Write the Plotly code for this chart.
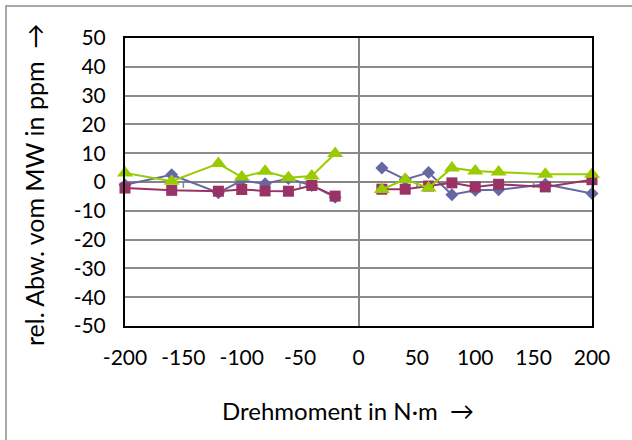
import plotly.graph_objects as go

# Torque set points (N·m), negative and positive branches measured separately
x_neg = [-200, -160, -120, -100, -80, -60, -40, -20]
x_pos = [20, 40, 60, 80, 100, 120, 160, 200]

# Relative deviation from the mean value (ppm)
blue_neg = [-1.0, 2.5, -3.7, 0.5, -0.6, 1.2, -1.2, -5.3]
blue_pos = [4.9, 0.9, 3.3, -4.4, -2.9, -2.7, -0.8, -4.0]
purple_neg = [-2.1, -2.9, -3.2, -2.6, -3.1, -3.2, -1.2, -4.9]
purple_pos = [-2.5, -2.5, -1.4, -0.3, -1.7, -0.8, -1.7, 0.8]
green_neg = [3.1, 0.3, 6.4, 1.7, 3.7, 1.5, 2.1, 9.9]
green_pos = [-2.6, 0.9, -2.1, 4.9, 3.8, 3.5, 2.7, 2.7]

x_ticks = [-200, -150, -100, -50, 0, 50, 100, 150, 200]
x_tick_labels = ["-200", "-150", "-100", "-50", "0", "50", "100", "150", "200"]
y_ticks = [-50, -40, -30, -20, -10, 0, 10, 20, 30, 40, 50]
y_tick_labels = ["-50", "-40", "-30", "-20", "-10", "0", "10", "20", "30", "40", "50"]

FONT = "Lato"
x_all = x_neg + [None] + x_pos

series = [
    (blue_neg, blue_pos, "#6668A4", "diamond", 10),
    (purple_neg, purple_pos, "#993366", "square", 11),
    (green_neg, green_pos, "#99CC00", "triangle-up", 14),
]

fig = go.Figure()
for neg, pos, color, symbol, size in series:
    fig.add_trace(go.Scatter(
        x=x_all, y=neg + [None] + pos,
        mode="lines+markers",
        connectgaps=False,
        line=dict(color=color, width=2),
        marker=dict(symbol=symbol, size=size, color=color, line=dict(width=0)),
        showlegend=False,
        cliponaxis=False,
    ))

# small tick marks on the horizontal zero line
shapes = []
for t in x_ticks:
    if t == 0:
        continue
    shapes.append(dict(type="line", xref="x", yref="y", x0=t, x1=t,
                       ysizemode="pixel", yanchor=0, y0=0, y1=-6,
                       line=dict(color="#868686", width=1.5), layer="below"))

# outer chart frame
L, R, T, B = 125, 592, 38, 326
W, H = R - L, B - T
shapes.append(dict(type="rect", xref="paper", yref="paper",
                   x0=(6 - L) / W, x1=(660 - L) / W,
                   y0=(B - 470) / H, y1=(B - 6) / H,
                   line=dict(color="#8C8C8C", width=1.5), fillcolor="rgba(0,0,0,0)"))

fig.update_layout(
    width=632, height=440,
    margin=dict(l=L, r=632 - R, t=T, b=440 - B),
    paper_bgcolor="white", plot_bgcolor="white",
    font=dict(family=FONT, size=21, color="black"),
    shapes=shapes,
    annotations=[
        dict(text="Drehmoment in N·m  →", xref="paper", yref="paper",
             x=(348 - L) / W, y=(B - 410) / H, showarrow=False,
             xanchor="center", yanchor="middle", font=dict(size=24)),
        dict(text="rel. Abw. vom MW in ppm  →", xref="paper", yref="paper",
             x=(34 - L) / W, y=(B - 185) / H, showarrow=False, textangle=-90,
             xanchor="center", yanchor="middle", font=dict(size=25)),
    ],
)
fig.update_xaxes(
    range=[-200, 200], tickvals=x_ticks, ticktext=x_tick_labels, showgrid=False,
    zeroline=True, zerolinecolor="#868686", zerolinewidth=2,
    showline=True, linecolor="black", linewidth=2, mirror=True,
    ticks="", ticklabelstandoff=12,
)
fig.update_yaxes(
    range=[-50, 50], tickvals=y_ticks, ticktext=y_tick_labels, showgrid=True,
    gridcolor="#8C8C8C", gridwidth=2,
    zeroline=True, zerolinecolor="#868686", zerolinewidth=2,
    showline=True, linecolor="black", linewidth=2, mirror=True,
    ticks="", ticklabelstandoff=13,
)

fig.write_html("out.html")
